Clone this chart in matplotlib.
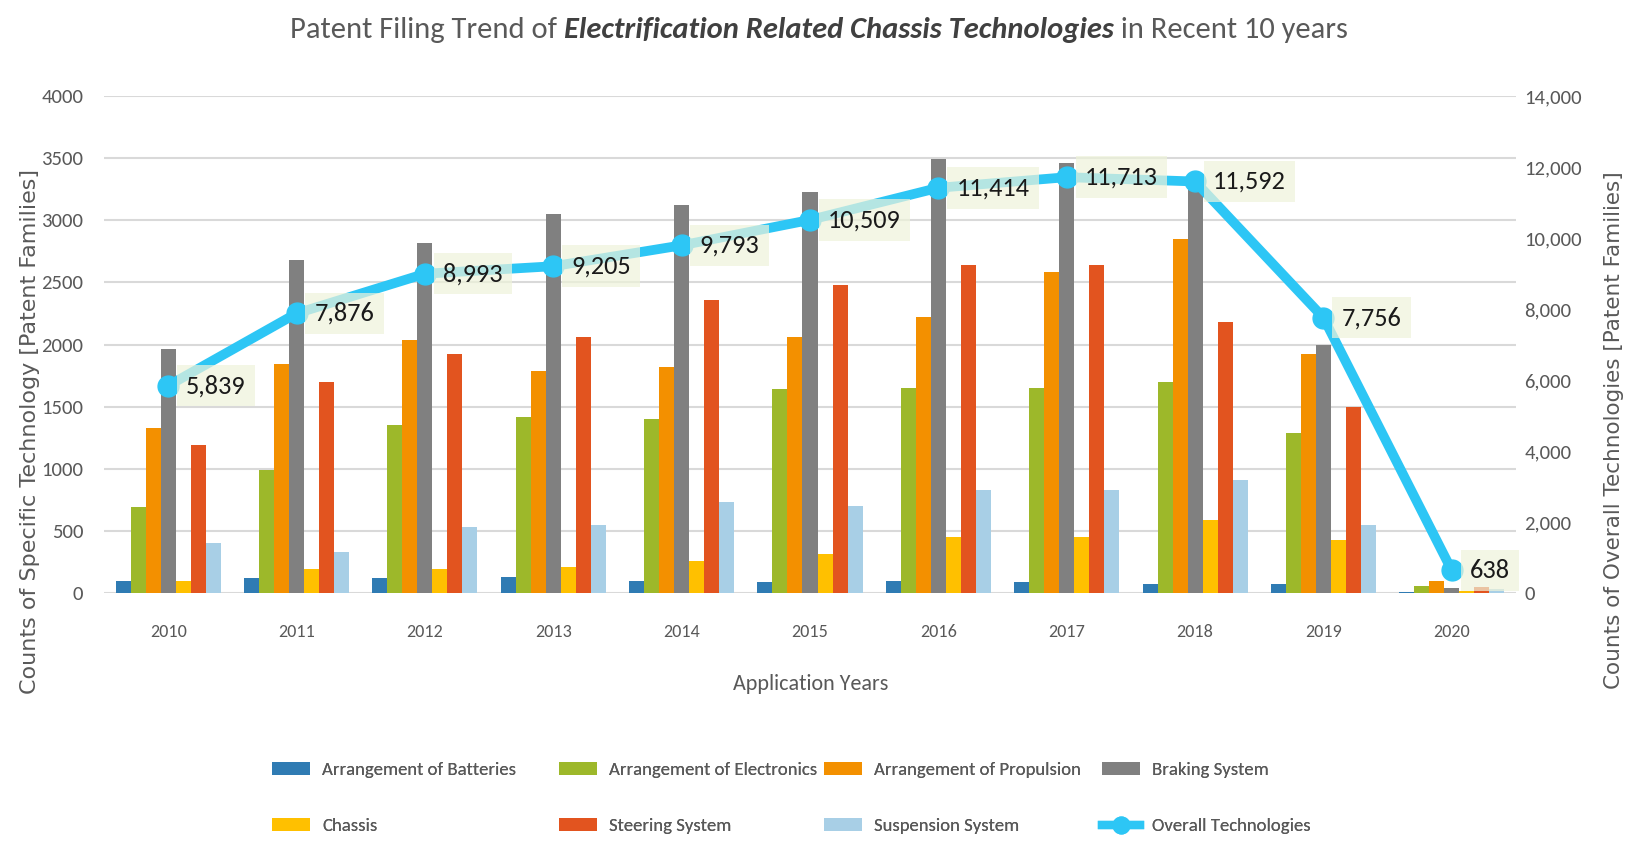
import os
import matplotlib
matplotlib.use("Agg")
import matplotlib.pyplot as plt
from matplotlib import font_manager
from matplotlib.font_manager import FontProperties
from matplotlib.patches import Patch
from matplotlib.lines import Line2D
import numpy as np

years = ["2010", "2011", "2012", "2013", "2014", "2015", "2016", "2017", "2018", "2019", "2020"]
batteries = [100, 120, 120, 125, 100, 90, 100, 90, 70, 70, 5]
electronics = [690, 990, 1350, 1420, 1400, 1640, 1650, 1650, 1700, 1290, 55]
propulsion = [1330, 1840, 2040, 1790, 1820, 2060, 2220, 2580, 2850, 1920, 100]
braking = [1960, 2680, 2820, 3050, 3120, 3230, 3490, 3460, 3330, 2000, 40]
chassis = [100, 190, 190, 210, 260, 310, 450, 450, 590, 430, 20]
steering = [1190, 1700, 1920, 2060, 2360, 2480, 2640, 2640, 2180, 1500, 48]
suspension = [400, 330, 530, 550, 730, 700, 830, 830, 910, 550, 30]
overall = [5839, 7876, 8993, 9205, 9793, 10509, 11414, 11713, 11592, 7756, 638]

series_names = ["Arrangement of Batteries", "Arrangement of Electronics", "Arrangement of Propulsion",
                "Braking System", "Chassis", "Steering System", "Suspension System"]
line_name = "Overall Technologies"
left_ticks = [0, 500, 1000, 1500, 2000, 2500, 3000, 3500, 4000]
right_ticks = [0, 2000, 4000, 6000, 8000, 10000, 12000, 14000]

colors = ["#2f7bb3", "#9db82a", "#f39000", "#808080", "#ffc000", "#e2541f", "#a8cfe6"]
line_color = "#2dc6f5"
text_grey = "#595959"


# ---------- font selection: prefer Calibri-like / narrow faces ----------
def _w(f):
    w = f.weight
    if isinstance(w, str):
        w = font_manager.weight_dict.get(w, 400)
    return w


def pick_font(bold=False, italic=False):
    ttf = font_manager.fontManager.ttflist
    bad = ("light", "thin", "medium", "semi", "extra", "black", "heavy", "mono", "serif", "demi")

    def ok(f):
        b = os.path.basename(f.fname).lower()
        if any(k in b for k in bad):
            return False
        if bold != (_w(f) >= 600):
            return False
        if italic != (f.style in ("italic", "oblique")):
            return False
        return True

    for f in ttf:
        if f.name == "Carlito" and ok(f):
            return FontProperties(fname=f.fname)
    prefs = ["Liberation Sans Narrow", "Open Sans", "Noto Sans", "Roboto", "DejaVu Sans"]
    cands = [f for f in ttf if ok(f) and (("narrow" in os.path.basename(f.fname).lower())
             or ("condensed" in os.path.basename(f.fname).lower()))]
    cands.sort(key=lambda f: prefs.index(f.name) if f.name in prefs else 99)
    if cands:
        return FontProperties(fname=cands[0].fname)
    return FontProperties(family="Lato", weight="bold" if bold else "normal",
                          style="italic" if italic else "normal")


FP = pick_font()
FPBI = pick_font(bold=True, italic=True)

W, H = 1630, 842
fig = plt.figure(figsize=(W / 100, H / 100), dpi=100)
renderer = fig.canvas.get_renderer()


def fit(text, fp, target_px):
    p = fp.copy()
    p.set_size(20)
    w, h, d = renderer.get_text_width_height_descent(text, p, ismath=False)
    return 20 * target_px / w


def prop(fp, size):
    p = fp.copy()
    p.set_size(size)
    return p


ax_l, ax_r, ax_t, ax_b = 104, 1516, 96, 593
ax = fig.add_axes([ax_l / W, 1 - ax_b / H, (ax_r - ax_l) / W, (ax_b - ax_t) / H])

x = np.arange(len(years))
data = [batteries, electronics, propulsion, braking, chassis, steering, suspension]
bw = 0.117
for i, (vals, c) in enumerate(zip(data, colors)):
    ax.bar(x + (i - 3) * bw, vals, width=bw, color=c, zorder=2, linewidth=0)

ytick_size = min(fit("4000", FP, 42), 17)
xtick_size = min(fit("2010", FP, 37), 16)
ax.set_xlim(-0.5, len(years) - 0.5)
ax.set_ylim(0, 4000)
ax.set_yticks(left_ticks)
ax.set_yticklabels([str(t) for t in left_ticks], fontproperties=prop(FP, ytick_size), color=text_grey)
ax.set_xticks(x)
ax.set_xticklabels(years, fontproperties=prop(FP, xtick_size), color=text_grey)
ax.tick_params(axis="both", length=0)
ax.tick_params(axis="x", pad=22)
ax.tick_params(axis="y", pad=15)
ax.grid(axis="y", color="#d9d9d9", linewidth=1.5, zorder=0)
for s in ax.spines.values():
    s.set_visible(False)
ax.set_axisbelow(True)

ax2 = ax.twinx()
ax2.set_ylim(0, 14000)
ax2.set_yticks(right_ticks)
ax2.set_yticklabels([f"{t:,}" for t in right_ticks], fontproperties=prop(FP, ytick_size), color=text_grey)
ax2.tick_params(axis="y", length=0, pad=6)
for s in ax2.spines.values():
    s.set_visible(False)
ax2.plot(x, overall, color=line_color, linewidth=7, marker="o", markersize=15,
         markerfacecolor=line_color, markeredgecolor=line_color, zorder=3, solid_capstyle="round")
lab_size = min(fit("5,839", FP, 60), 24)
for xi, v in zip(x, overall):
    ax2.annotate(f"{v:,}", (xi, v), xytext=(13, 0), textcoords="offset points",
                 ha="left", va="center", fontproperties=prop(FP, lab_size), color="#1a1a1a", zorder=5,
                 bbox=dict(boxstyle="square,pad=0.35", facecolor="#eef3da", edgecolor="none", alpha=0.7))

# axis titles
ylab_l = "Counts of Specific Technology [Patent Families]"
ylab_r = "Counts of Overall Technologies [Patent Families]"
dv = FontProperties(family="DejaVu Sans")
fig.text(30 / W, 1 - 431 / H, ylab_l, rotation=90, ha="center", va="center",
         fontproperties=prop(dv, min(fit(ylab_l, dv, 640), 16)), color=text_grey)
fig.text(1614 / W, 1 - 430 / H, ylab_r, rotation=90, ha="center", va="center",
         fontproperties=prop(dv, min(fit(ylab_r, dv, 620), 15.5)), color=text_grey)
fig.text(811 / W, 1 - 684 / H, "Application Years", ha="center", va="center",
         fontproperties=prop(FP, min(fit("Application Years", FP, 156), 17)), color=text_grey)

# title composed of three parts
parts = [("Patent Filing Trend of ", FP, text_grey),
         ("Electrification Related Chassis Technologies", FPBI, "#404040"),
         (" in Recent 10 years", FP, text_grey)]
tmp = []
for s, fp, col in parts:
    q = fp.copy(); q.set_size(20)
    tmp.append(renderer.get_text_width_height_descent(s, q, ismath=False)[0])
tsize = min(20 * 1057 / sum(tmp), 26)
texts = []
for s, fp, col in parts:
    t = fig.text(0, 1 - 30 / H, s, ha="left", va="center", fontproperties=prop(fp, tsize), color=col)
    texts.append(t)
fig.canvas.draw()
r = fig.canvas.get_renderer()
widths = [t.get_window_extent(r).width for t in texts]
start = 819 - sum(widths) / 2
for t, wdt in zip(texts, widths):
    t.set_x(start / W)
    start += wdt

# legend: one entry per legend, placed on a 4 x 2 grid
handles = [Patch(facecolor=c, edgecolor="none") for c in colors]
handles.append(Line2D([0], [0], color=line_color, linewidth=6, marker="o", markersize=12))
labels = series_names + [line_name]
leg_size = min(fit("Arrangement of Electronics", FP, 208), 15)
fs_px = leg_size * 100 / 72
col_x = [272, 559, 824, 1102]
row_y = [770, 826]
for k, (h, l) in enumerate(zip(handles, labels)):
    ci, ri = k % 4, k // 4
    leg = fig.legend([h], [l], loc="center left", bbox_to_anchor=(col_x[ci] / W, 1 - row_y[ri] / H),
                     frameon=False, prop=prop(FP, leg_size), labelcolor=text_grey,
                     handlelength=38 / fs_px, handleheight=0.65, handletextpad=12 / fs_px,
                     borderaxespad=0, borderpad=0)
    fig.add_artist(leg)

fig.savefig("out.png", dpi=100, facecolor="white")
